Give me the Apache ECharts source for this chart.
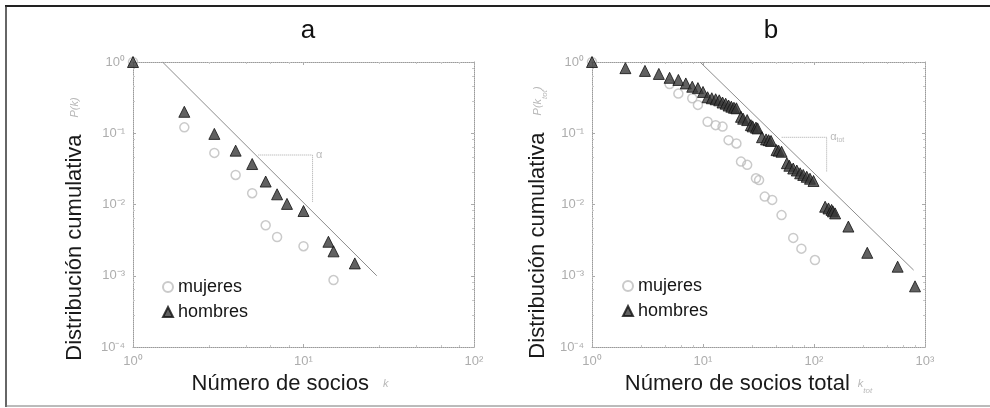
<!DOCTYPE html>
<html>
<head>
<meta charset="utf-8">
<script src="https://cdn.jsdelivr.net/npm/echarts@6/dist/echarts.min.js"></script>
<style>
html,body{margin:0;padding:0;background:#fff;}
#chart{width:990px;height:408px;}
</style>
</head>
<body>
<div id="chart"></div>
<script>
// ---------- data ----------
const panelTitles = ['a', 'b'];
const legendNames = ['mujeres', 'hombres'];

// Panel a : número de socios k
const kA_mujeres = [1, 2, 3, 4, 5, 6, 7, 10, 15];
const PA_mujeres = [1, 0.121, 0.053, 0.026, 0.0144, 0.0051, 0.0035, 0.0026, 0.00087];
const kA_hombres = [1, 2, 3, 4, 5, 6, 7, 8, 10, 14, 15, 20];
const PA_hombres = [1, 0.20, 0.098, 0.057, 0.037, 0.021, 0.0139, 0.0102, 0.0081, 0.0030, 0.0022, 0.00149];
const kA_fit = [1.49, 26.9];
const PA_fit = [1, 0.001];
const kA_slope = [5.43, 11.3, 11.3];
const PA_slope = [0.0495, 0.0495, 0.0107];

// Panel b : número de socios total k_tot
const kB_mujeres = [1, 5, 6, 8, 9, 11, 13, 15, 17, 20, 22, 25, 30, 32, 36, 42, 51, 65, 77, 102];
const PB_mujeres = [1, 0.49, 0.36, 0.31, 0.25, 0.145, 0.13, 0.124, 0.080, 0.072, 0.040, 0.036, 0.0233, 0.022, 0.0129, 0.0116, 0.0071, 0.0034, 0.0024, 0.00166];
const kB_hombres = [1, 2, 3, 4, 5, 6, 7, 8, 9, 10, 11, 12, 13, 14, 15, 16, 17, 18, 19, 20, 22, 23, 25, 27, 28, 30, 31, 34, 37, 39, 41, 46, 48, 51, 57, 60, 65, 70, 75, 80, 86, 92, 99, 126, 135, 144, 148, 155, 204, 302, 567, 813];
const PB_hombres = [1, 0.82, 0.75, 0.68, 0.60, 0.56, 0.50, 0.45, 0.43, 0.38, 0.32, 0.31, 0.30, 0.29, 0.27, 0.26, 0.245, 0.236, 0.228, 0.224, 0.17, 0.16, 0.153, 0.13, 0.125, 0.12, 0.117, 0.088, 0.082, 0.080, 0.078, 0.058, 0.057, 0.055, 0.038, 0.035, 0.032, 0.030, 0.0274, 0.026, 0.0245, 0.023, 0.0214, 0.0093, 0.0088, 0.0084, 0.008, 0.0075, 0.0049, 0.0021, 0.00134, 0.00071];
const kB_fit = [9.4, 790];
const PB_fit = [1, 0.0012];
const kB_slope = [51.2, 130, 130];
const PB_slope = [0.0877, 0.0877, 0.029];

// tick labels
const xTickLabelsA = ['10⁰', '10¹', '10²'];
const xTickLabelsB = ['10⁰', '10¹', '10²', '10³'];
const yTickLabels = ['10⁰', '10⁻¹', '10⁻²', '10⁻³', '10⁻⁴'];

// ---------- helpers ----------
const zip = (xs, ys) => xs.map((x, i) => [x, ys[i]]);
const FONT = 'Liberation Sans, Arial, Helvetica, sans-serif';
const lineCol = '#9a9a9a';

function frameAxis(kind, grid, pos, min, max, labels, extra) {
  const ax = {
    type: 'log', logBase: 10, gridIndex: grid, position: pos, min: min, max: max,
    axisLine: { show: true, lineStyle: { color: lineCol, type: 'dotted', width: 1 } },
    axisTick: { show: true, inside: true, length: 3, lineStyle: { color: '#aaa' } },
    minorTick: { show: true, splitNumber: 5, length: 2, lineStyle: { color: '#c8c8c8' } },
    splitLine: { show: false },
    axisLabel: { show: !!labels, color: '#adadad', fontSize: 13, fontFamily: FONT, margin: 8,
      showMinLabel: true, showMaxLabel: true,
      formatter: labels ? (v => labels[Math.abs(Math.round(Math.log10(v)))]) : undefined }
  };
  return Object.assign(ax, extra || {});
}

const nameRich = {
  t: { fontSize: 22, color: '#1a1a1a', fontFamily: FONT },
  s: { fontSize: 11, color: '#b8b8b8', fontFamily: FONT, fontStyle: 'italic' },
  sub: { fontSize: 8, color: '#b8b8b8', fontFamily: FONT, fontStyle: 'italic', verticalAlign: 'bottom', padding: [6, 0, 0, 0] },
  g8: { width: 8 }, g14: { width: 14 }, g17: { width: 17 },
  sp20: { width: 20 }, sp27: { width: 27 }, sp36: { width: 36 }, sp49: { width: 49 }
};

const scatterStyle = {
  mujeres: { symbol: 'circle', symbolSize: 9, itemStyle: { color: 'rgba(255,255,255,0)', borderColor: '#bdbdbd', borderWidth: 1.5 } },
  hombres: { symbol: 'triangle', symbolSize: 11, itemStyle: { color: '#3a3a3a', borderColor: '#111', borderWidth: 1 } }
};

function scat(name, xi, data, z) {
  return Object.assign({ type: 'scatter', name: name, xAxisIndex: xi, yAxisIndex: xi, data: data, z: z, silent: true }, scatterStyle[name]);
}
function fitLine(xi, data) {
  return { type: 'line', name: 'fit' + xi, xAxisIndex: xi, yAxisIndex: xi, data: data, showSymbol: false, symbol: 'none',
    lineStyle: { color: '#8c8c8c', width: 1 }, silent: true, z: 1 };
}
function slopeLine(xi, data) {
  return { type: 'line', name: 'slope' + xi, xAxisIndex: xi, yAxisIndex: xi, data: data, showSymbol: false, symbol: 'none',
    lineStyle: { color: '#a8a8a8', width: 1, type: 'dotted' }, silent: true, z: 1 };
}
function slopeLabel(xi, point, text) {
  return { type: 'scatter', name: 'slopeLabel' + xi, xAxisIndex: xi, yAxisIndex: xi, data: [point], symbolSize: 1,
    itemStyle: { color: 'rgba(0,0,0,0)' }, silent: true,
    label: { show: true, position: 'right', distance: 3, formatter: text,
      color: '#aaa', fontSize: 11, fontFamily: FONT,
      rich: { a: { fontSize: 11, color: '#aaa' }, b: { fontSize: 7, color: '#aaa', verticalAlign: 'bottom', padding: [6, 0, 0, 0] } } } };
}

const legendBase = { orient: 'vertical', itemGap: 7, itemWidth: 10, itemHeight: 10, padding: 0,
  data: legendNames, selectedMode: false, textStyle: { fontSize: 18, color: '#151515', fontFamily: FONT } };

const option = {
  backgroundColor: '#fff',
  animation: false,
  title: [
    { text: panelTitles[0], left: 303, top: 13, textAlign: 'center', textStyle: { fontSize: 26, fontWeight: 'normal', color: '#111', fontFamily: FONT } },
    { text: panelTitles[1], left: 766, top: 13, textAlign: 'center', textStyle: { fontSize: 26, fontWeight: 'normal', color: '#111', fontFamily: FONT } }
  ],
  grid: [
    { left: 133, top: 62, width: 341, height: 285 },
    { left: 592, top: 62, width: 333, height: 285 }
  ],
  xAxis: [
    frameAxis('x', 0, 'bottom', 1, 100, xTickLabelsA, {
      name: '{t|Número de socios}{g14| }{s|k}{sp27| }', nameLocation: 'middle', nameGap: 21,
      nameTextStyle: { rich: nameRich } }),
    frameAxis('x', 1, 'bottom', 1, 1000, xTickLabelsB, {
      name: '{t|Número de socios total}{g8| }{s|k}{sub|tot}{sp20| }', nameLocation: 'middle', nameGap: 22,
      nameTextStyle: { rich: nameRich } }),
    frameAxis('x', 0, 'top', 1, 100, null),
    frameAxis('x', 1, 'top', 1, 1000, null)
  ],
  yAxis: [
    frameAxis('y', 0, 'left', 0.0001, 1, yTickLabels, {
      name: '{t|Distribución cumulativa}{g17| }{s|P(k)}{sp49| }', nameLocation: 'middle', nameGap: 47, nameRotate: 90,
      nameTextStyle: { rich: nameRich } }),
    frameAxis('y', 1, 'left', 0.0001, 1, yTickLabels, {
      name: '{t|Distribución cumulativa}{g17| }{s|P(k}{sub|tot}{s|)}{sp36| }', nameLocation: 'middle', nameGap: 43, nameRotate: 90,
      nameTextStyle: { rich: nameRich } }),
    frameAxis('y', 0, 'right', 0.0001, 1, null),
    frameAxis('y', 1, 'right', 0.0001, 1, null)
  ],
  legend: [
    Object.assign({ left: 162, top: 278 }, legendBase),
    Object.assign({ left: 622, top: 277 }, legendBase)
  ],
  series: [
    fitLine(0, zip(kA_fit, PA_fit)),
    slopeLine(0, zip(kA_slope, PA_slope)),
    slopeLabel(0, [kA_slope[1], PA_slope[1]], 'α'),
    scat('mujeres', 0, zip(kA_mujeres, PA_mujeres), 3),
    scat('hombres', 0, zip(kA_hombres, PA_hombres), 4),
    fitLine(1, zip(kB_fit, PB_fit)),
    slopeLine(1, zip(kB_slope, PB_slope)),
    slopeLabel(1, [kB_slope[1], PB_slope[1]], '{a|α}{b|tot}'),
    scat('mujeres', 1, zip(kB_mujeres, PB_mujeres), 3),
    scat('hombres', 1, zip(kB_hombres, PB_hombres), 4)
  ],
  graphic: [
    { type: 'line', shape: { x1: 5, y1: 6, x2: 990, y2: 6 }, style: { stroke: '#222', lineWidth: 2 }, silent: true },
    { type: 'line', shape: { x1: 6, y1: 6, x2: 6, y2: 407 }, style: { stroke: '#333', lineWidth: 1.5 }, silent: true },
    { type: 'line', shape: { x1: 6, y1: 406, x2: 990, y2: 406 }, style: { stroke: '#777', lineWidth: 1 }, silent: true }
  ]
};

const chart = echarts.init(document.getElementById('chart'), null, { renderer: 'canvas' });
chart.setOption(option);
</script>
</body>
</html>
